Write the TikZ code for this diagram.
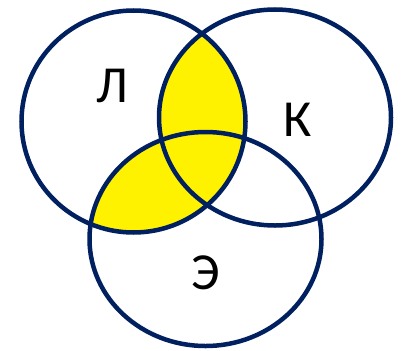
\documentclass[tikz,border=0pt]{standalone}
\usepackage{fontspec}
\setmainfont{Carlito}
\definecolor{navy}{HTML}{002060}
\definecolor{venny}{HTML}{FFF200}
\begin{document}
\begin{tikzpicture}[x=1pt,y=-1pt,
  ring/.style={draw=navy,line width=4.5pt},
  lbl/.style={font=\fontsize{52}{52}\selectfont,text=black,inner sep=0pt}]
\useasboundingbox (0,0) rectangle (403,350);
\begin{scope}
  \clip (133.5,121.5) ellipse [x radius=112, y radius=111];
  \fill[venny] (275,117.5) ellipse [x radius=116, y radius=108];
  \fill[venny] (205.5,239) ellipse [x radius=116, y radius=107];
\end{scope}
\draw[ring] (133.5,121.5) ellipse [x radius=112, y radius=111];
\draw[ring] (275,117.5) ellipse [x radius=116, y radius=108];
\draw[ring] (205.5,239) ellipse [x radius=116, y radius=107];
\node[lbl] (L) at (112,86) {Л};
\node[lbl] (K) at (298,120) {К};
\node[lbl] (E) at (206,273) {Э};
\end{tikzpicture}
\end{document}
